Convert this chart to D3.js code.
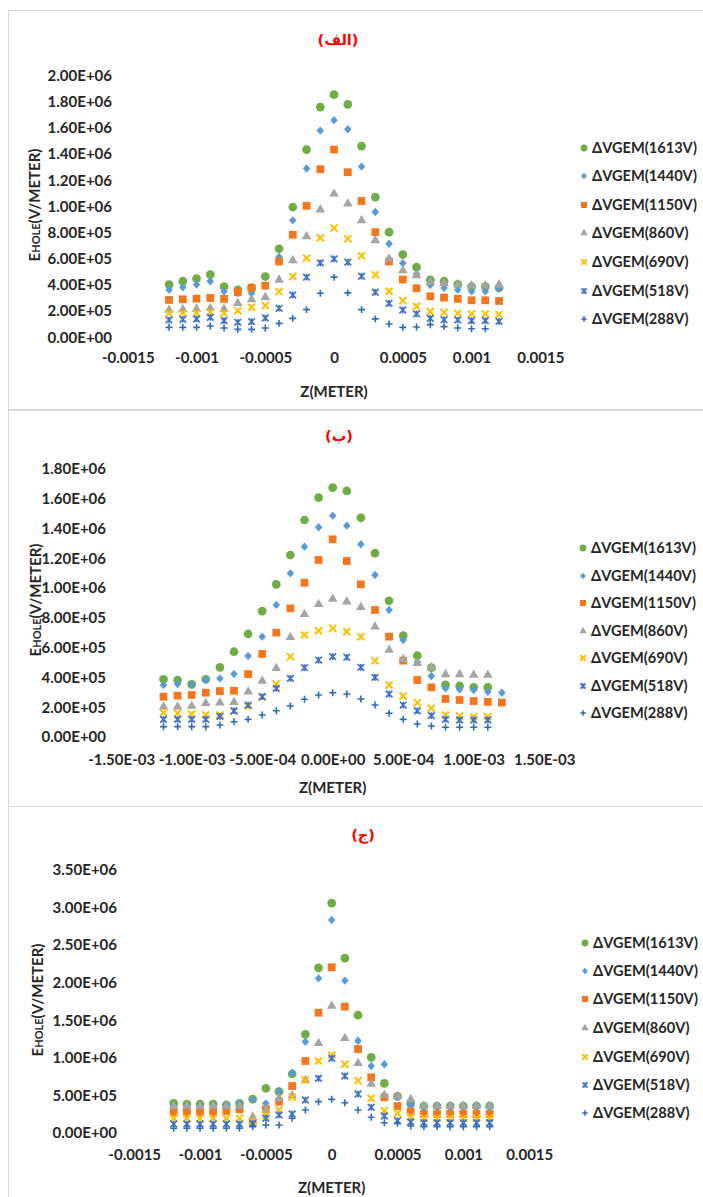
<!DOCTYPE html>
<html><head><meta charset="utf-8">
<script src="https://cdn.jsdelivr.net/npm/d3@7"></script>
<style>
html,body{margin:0;padding:0;background:#fff;}
svg{display:block;}
text{font-family:Lato,"Liberation Sans",sans-serif;font-weight:700;fill:#262626;font-size:15px;}
text.leg{font-size:14.6px;}
text.ttl{font-family:"DejaVu Sans",sans-serif;fill:#FF0000;font-size:14.5px;}
</style></head><body>
<svg id="c" width="703" height="1197"></svg>
<script>
// ---------- data ----------
const zValues = [-0.0012,-0.0011,-0.001,-0.0009,-0.0008,-0.0007,-0.0006,-0.0005,-0.0004,-0.0003,-0.0002,-0.0001,0,0.0001,0.0002,0.0003,0.0004,0.0005,0.0006,0.0007,0.0008,0.0009,0.001,0.0011,0.0012];
const seriesNames = ["ΔVGEM(1613V)","ΔVGEM(1440V)","ΔVGEM(1150V)","ΔVGEM(860V)","ΔVGEM(690V)","ΔVGEM(518V)","ΔVGEM(288V)"];
const panelTitles = ["(الف)","(ب)","(ج)"];
const xTickValues = [-0.0015,-0.001,-0.0005,0,0.0005,0.001,0.0015];
const yTicksA = [0,2e5,4e5,6e5,8e5,1e6,1.2e6,1.4e6,1.6e6,1.8e6,2e6];
const yTicksB = [0,2e5,4e5,6e5,8e5,1e6,1.2e6,1.4e6,1.6e6,1.8e6];
const yTicksC = [0,5e5,1e6,1.5e6,2e6,2.5e6,3e6,3.5e6];
const xAxisTitle = "Z(METER)";

// panel (الف)
const a1613 = [3.98e5,4.24e5,4.44e5,4.75e5,3.83e5,3.58e5,3.75e5,4.6e5,6.72e5,9.91e5,1.43e6,1.755e6,1.85e6,1.775e6,1.456e6,1.067e6,7.99e5,6.28e5,5.31e5,4.34e5,4.24e5,4.0e5,3.83e5,3.83e5,3.73e5];
const a1440 = [3.58e5,3.78e5,3.98e5,4.24e5,3.47e5,3.32e5,3.32e5,3.9e5,6.1e5,8.89e5,1.285e6,1.575e6,1.655e6,1.585e6,1.30e6,9.53e5,7.1e5,5.62e5,4.8e5,3.95e5,3.73e5,3.58e5,3.47e5,3.47e5,3.7e5];
const a1150 = [2.81e5,2.86e5,2.91e5,2.96e5,2.89e5,3.4e5,3.73e5,3.9e5,5.75e5,7.79e5,1.0e6,1.28e6,1.43e6,1.257e6,1.037e6,7.99e5,5.75e5,4.37e5,3.7e5,3.09e5,2.99e5,2.89e5,2.78e5,2.78e5,2.73e5];
const a860  = [2.04e5,2.09e5,2.12e5,2.17e5,2.12e5,2.55e5,2.84e5,3.01e5,4.34e5,5.82e5,7.66e5,9.71e5,1.093e6,1.017e6,8.89e5,7.36e5,5.95e5,5.06e5,4.67e5,4.16e5,4.08e5,3.98e5,3.9e5,3.9e5,3.98e5];
const a690  = [1.79e5,1.79e5,1.8e5,1.86e5,1.79e5,1.99e5,2.25e5,2.38e5,3.45e5,4.6e5,6.0e5,7.56e5,8.3e5,7.49e5,6.18e5,4.73e5,3.47e5,2.76e5,2.32e5,1.92e5,1.86e5,1.79e5,1.74e5,1.74e5,1.69e5];
const a518  = [1.28e5,1.33e5,1.35e5,1.48e5,1.23e5,1.1e5,1.15e5,1.43e5,2.17e5,3.19e5,4.55e5,5.64e5,5.95e5,5.7e5,4.62e5,3.4e5,2.55e5,2.04e5,1.74e5,1.4e5,1.3e5,1.28e5,1.23e5,1.23e5,1.17e5];
const a288  = [7.1e4,7.1e4,7.1e4,8.2e4,6.7e4,5.6e4,5.6e4,6.7e4,1.02e5,1.4e5,2.07e5,3.32e5,4.55e5,3.35e5,2.07e5,1.36e5,9.7e4,7.1e4,7.4e4,9.2e4,7.7e4,6.7e4,6.1e4,6.1e4,null];

// panel (ب)
const b1613 = [3.84e5,3.79e5,3.5e5,3.84e5,4.64e5,5.69e5,6.88e5,8.42e5,1.021e6,1.218e6,1.453e6,1.603e6,1.67e6,1.648e6,1.468e6,1.23e6,9.11e5,6.77e5,5.42e5,4.62e5,3.46e5,3.39e5,3.3e5,3.3e5,null];
const b1440 = [3.46e5,3.52e5,3.5e5,3.79e5,3.9e5,4.19e5,5.4e5,6.7e5,8.83e5,1.095e6,1.274e6,1.404e6,1.482e6,1.415e6,1.29e6,1.084e6,8.49e5,6.48e5,5.0e5,4.06e5,3.23e5,3.17e5,3.12e5,3.0e5,2.94e5];
const b1150 = [2.67e5,2.74e5,2.79e5,2.94e5,3.05e5,3.07e5,4.19e5,5.54e5,6.97e5,8.6e5,1.032e6,1.185e6,1.323e6,1.178e6,1.021e6,8.49e5,6.7e5,5.09e5,3.79e5,3.3e5,2.52e5,2.45e5,2.38e5,2.32e5,2.28e5];
const b860  = [2.0e5,2.0e5,2.05e5,2.23e5,2.27e5,2.3e5,3.0e5,3.72e5,4.58e5,6.66e5,8.2e5,8.87e5,9.23e5,9.05e5,8.67e5,7.37e5,5.81e5,5.18e5,4.91e5,4.62e5,4.17e5,4.17e5,4.13e5,4.13e5,null];
const b690  = [1.6e5,1.56e5,1.51e5,1.44e5,1.44e5,1.7e5,2.05e5,2.67e5,3.52e5,5.35e5,6.81e5,7.1e5,7.26e5,7.03e5,6.7e5,5.09e5,3.46e5,2.72e5,2.27e5,1.89e5,1.44e5,1.38e5,1.33e5,1.33e5,null];
const b518  = [1.15e5,1.15e5,1.15e5,1.15e5,1.35e5,1.73e5,2.11e5,2.67e5,3.23e5,3.9e5,4.62e5,5.13e5,5.36e5,5.32e5,4.64e5,3.97e5,2.85e5,2.11e5,1.73e5,1.4e5,1.15e5,1.11e5,1.11e5,1.11e5,null];
const b288  = [6.6e4,6.6e4,6.6e4,6.6e4,7.7e4,9.9e4,1.15e5,1.44e5,1.73e5,2.05e5,2.5e5,2.79e5,2.94e5,2.85e5,2.52e5,2.11e5,1.56e5,1.15e5,8.4e4,7.0e4,6.2e4,6.2e4,6.2e4,6.2e4,null];

// panel (ج)
const c1613 = [3.88e5,3.79e5,3.79e5,3.79e5,3.66e5,3.88e5,4.45e5,5.88e5,5.43e5,7.78e5,1.306e6,2.19e6,3.05e6,2.32e6,1.56e6,1.0e6,6.54e5,4.8e5,3.79e5,3.52e5,3.52e5,3.52e5,3.52e5,3.52e5,3.52e5];
const c1440 = [3.52e5,3.52e5,3.52e5,3.52e5,3.66e5,3.88e5,4.4e5,3.88e5,5.5e5,7.95e5,1.207e6,2.05e6,2.826e6,2.02e6,1.22e6,8.84e5,9.07e5,4.7e5,3.66e5,3.45e5,3.45e5,3.45e5,3.45e5,3.45e5,3.45e5];
const c1150 = [2.63e5,2.63e5,2.63e5,2.63e5,2.86e5,3.08e5,1.3e5,3.08e5,4.1e5,6.18e5,9.51e5,1.593e6,2.197e6,1.673e6,1.11e6,7.34e5,4.68e5,3.52e5,2.77e5,2.46e5,2.46e5,2.46e5,2.46e5,2.46e5,2.46e5];
const c860  = [3.5e5,3.5e5,3.5e5,3.5e5,3.5e5,3.5e5,2.1e5,3.0e5,4.55e5,4.9e5,6.95e5,1.186e6,1.682e6,1.253e6,9.2e5,6.45e5,4.99e5,4.85e5,4.41e5,3.52e5,3.52e5,3.52e5,3.52e5,3.52e5,3.52e5];
const c690  = [1.89e5,1.89e5,1.89e5,1.89e5,1.89e5,1.89e5,1.5e5,2.3e5,2.99e5,4.68e5,6.98e5,9.51e5,1.03e6,9.07e5,6.89e5,4.55e5,2.9e5,2.55e5,2.1e5,1.89e5,1.89e5,1.89e5,1.89e5,1.89e5,1.89e5];
const c518  = [1.13e5,1.13e5,1.13e5,1.13e5,1.13e5,1.13e5,1.2e5,1.89e5,2.33e5,2.46e5,4.32e5,7.2e5,9.87e5,7.51e5,5.12e5,3.35e5,2.19e5,1.57e5,1.4e5,1.3e5,1.3e5,1.3e5,1.3e5,1.3e5,1.3e5];
const c288  = [5.6e4,5.6e4,5.6e4,5.6e4,5.6e4,5.6e4,7.7e4,1.0e5,1.0e5,1.89e5,2.99e5,4.1e5,4.41e5,3.96e5,2.99e5,2.02e5,1.3e5,1.22e5,8.6e4,7.7e4,7.7e4,7.7e4,7.7e4,7.7e4,7.7e4];

// ---------- styles ----------
const symX = {draw(c,s){const r=Math.sqrt(s)/2;c.moveTo(-r,-r);c.lineTo(r,r);c.moveTo(r,-r);c.lineTo(-r,r);}};
const symStar = {draw(c,s){const r=Math.sqrt(s)/2;c.moveTo(-r,-r);c.lineTo(r,r);c.moveTo(r,-r);c.lineTo(-r,r);c.moveTo(0,-r);c.lineTo(0,r);}};
const symPlus = {draw(c,s){const r=Math.sqrt(s)/2;c.moveTo(-r,0);c.lineTo(r,0);c.moveTo(0,-r);c.lineTo(0,r);}};
const symDia = {draw(c,s){const r=Math.sqrt(s)/2;c.moveTo(0,-r);c.lineTo(r*0.9,0);c.lineTo(0,r);c.lineTo(-r*0.9,0);c.closePath();}};
const markerStyles = [
  {type:d3.symbolCircle, size:60, fill:"#70AD47"},
  {type:symDia, size:70, fill:"#5B9BD5"},
  {type:d3.symbolSquare, size:60, fill:"#F4761F"},
  {type:d3.symbolTriangle, size:40, fill:"#A5A5A5"},
  {type:symX, size:50, stroke:"#FFC000", sw:2},
  {type:symStar, size:44, stroke:"#4472C4", sw:1.7},
  {type:symPlus, size:48, stroke:"#2E6DB4", sw:1.6}
];

function fmtE(v){
  const s = v.toExponential(2); const parts = s.split('e');
  const sign = parts[1][0]==='-'?'-':'+';
  let d = parts[1].replace(/[+-]/,''); if(d.length<2) d='0'+d;
  return parts[0]+'E'+sign+d;
}
function fmtPlain(v){ return String(v); }

const panels = [
  {series:[a1613,a1440,a1150,a860,a690,a518,a288], title:panelTitles[0], yTicks:yTicksA, yMax:2e6,
   frame:[8,10,760,399], titlePos:[338,45], xr:[127.8,540.3], yr:[336.7,75], yLabRight:112, xPad:16, xFmt:fmtPlain,
   xTitleY:397, yTitle:[35,205], legX:584, legY:[148,176,205,233,262,291,319]},
  {series:[b1613,b1440,b1150,b860,b690,b518,b288], title:panelTitles[1], yTicks:yTicksB, yMax:1.8e6,
   frame:[8,410,760,396], titlePos:[339,441], xr:[121.2,544.2], yr:[736.5,468.3], yLabRight:106, xPad:17.5, xFmt:fmtE,
   xTitleY:793, yTitle:[36,600], legX:583, legY:[548,576,603,631,658,686,713]},
  {series:[c1613,c1440,c1150,c860,c690,c518,c288], title:panelTitles[2], yTicks:yTicksC, yMax:3.5e6,
   frame:[8,806,760,420], titlePos:[363,840], xr:[134.2,529.2], yr:[1132.5,869.3], yLabRight:117, xPad:16.5, xFmt:fmtPlain,
   xTitleY:1193, yTitle:[38,1000], legX:585, legY:[943,971,999,1028,1057,1085,1113]}
];

const svg = d3.select('#c');

function marker(sel, st, scale){
  const path = d3.symbol().type(st.type).size(st.size*scale);
  sel.attr('d', path());
  if(st.fill){ sel.attr('fill', st.fill).attr('stroke','none'); }
  else { sel.attr('fill','none').attr('stroke', st.stroke).attr('stroke-width', st.sw).attr('stroke-linecap','butt'); }
}

panels.forEach(p=>{
  const g = svg.append('g');
  g.append('rect').attr('x',p.frame[0]+0.5).attr('y',p.frame[1]+0.5).attr('width',p.frame[2]).attr('height',p.frame[3])
    .attr('fill','none').attr('stroke','#D9D9D9').attr('stroke-width',1);
  const x = d3.scaleLinear().domain([-0.0015,0.0015]).range(p.xr);
  const y = d3.scaleLinear().domain([0,p.yMax]).range(p.yr);

  const ya = g.append('g').attr('transform',`translate(${p.yLabRight},0)`)
    .call(d3.axisLeft(y).tickValues(p.yTicks).tickSize(0).tickPadding(0).tickFormat(fmtE));
  ya.attr('font-size',null).attr('font-family',null);
  ya.select('.domain').remove();
  ya.selectAll('.tick text').attr('dy','0.36em');

  const xa = g.append('g').attr('transform',`translate(0,${y(0)})`)
    .call(d3.axisBottom(x).tickValues(xTickValues).tickSize(0).tickPadding(p.xPad).tickFormat(p.xFmt));
  xa.attr('font-size',null).attr('font-family',null);
  xa.select('.domain').remove();

  g.append('text').attr('class','ttl').attr('x',p.titlePos[0]).attr('y',p.titlePos[1]).attr('text-anchor','middle').text(p.title);
  g.append('text').attr('x',(p.xr[0]+p.xr[1])/2).attr('y',p.xTitleY).attr('text-anchor','middle').text(xAxisTitle);

  const yt = g.append('text').attr('transform',`translate(${p.yTitle[0]+5},${p.yTitle[1]}) rotate(-90)`).attr('text-anchor','middle');
  yt.append('tspan').text('E');
  yt.append('tspan').style('font-size','11px').text('HOLE');
  yt.append('tspan').text('(V/METER)');

  p.series.forEach((vals,i)=>{
    const st = markerStyles[i];
    const pts = zValues.map((z,k)=>({z, v:vals[k]})).filter(d=>d.v!==null);
    g.append('g').selectAll('path').data(pts).join('path')
      .attr('transform',d=>`translate(${x(d.z)},${y(d.v)})`)
      .each(function(){ marker(d3.select(this), st, 1); });
  });

  seriesNames.forEach((name,i)=>{
    const st = markerStyles[i];
    marker(g.append('path').attr('transform',`translate(${p.legX},${p.legY[i]})`), st, 0.6);
    g.append('text').attr('class','leg').attr('x',p.legX+8).attr('y',p.legY[i]).attr('dy','0.36em').text(name);
  });
});
</script>
</body></html>
